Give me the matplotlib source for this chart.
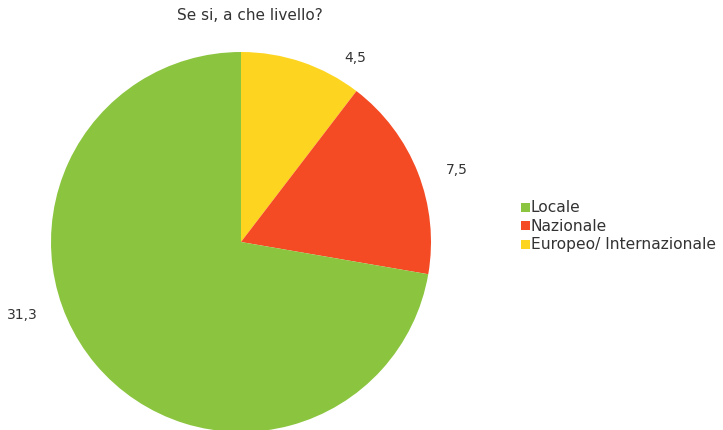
import matplotlib
matplotlib.use('Agg')
import matplotlib.pyplot as plt

plt.rcParams['font.family'] = ['DejaVu Sans']

title = 'Se si, a che livello?'
categories = ['Locale', 'Nazionale', 'Europeo/ Internazionale']
values = [31.3, 7.5, 4.5]
colors = ['#8BC53F', '#F44B24', '#FDD520']
text_color = '#333333'

# pie is drawn clockwise from 12 o'clock: yellow, red, then green
order = [2, 1, 0]

W, H = 723, 431
fig = plt.figure(figsize=(W / 100, H / 100), dpi=100)
fig.patch.set_facecolor('white')

# pie axes: center (241, 243) px, radius 190 px
cx, cy, r = 241, 243, 190
ax = fig.add_axes([(cx - r) / W, (H - cy - r) / H, 2 * r / W, 2 * r / H])
wedges, _ = ax.pie([values[i] for i in order],
                   colors=[colors[i] for i in order],
                   startangle=90, counterclock=False, radius=1.0,
                   wedgeprops=dict(linewidth=0))
ax.set_xlim(-1, 1)
ax.set_ylim(-1, 1)
ax.set_aspect('equal')
ax.axis('off')
for w in wedges:
    w.set_clip_on(False)

# value labels (pixel positions of label centres)
label_px = {0: (22, 315), 1: (457, 170), 2: (355, 58)}
for i, (px, py) in label_px.items():
    fig.text(px / W, 1 - py / H, f'{values[i]:.1f}'.replace('.', ','),
             ha='center', va='center', fontsize=10, color=text_color)

fig.text(250 / W, 1 - 16 / H, title, ha='center', va='center',
         fontsize=11, color=text_color)

# legend
for k, name in enumerate(categories):
    y = 1 - (208 + k * 18.5) / H
    fig.patches.append(plt.Rectangle((521 / W, y - 4.5 / H), 9 / W, 9 / H,
                                     transform=fig.transFigure,
                                     facecolor=colors[k], edgecolor='none'))
    fig.text(531 / W, y, name, ha='left', va='center',
             fontsize=11.2, color=text_color)

fig.savefig('out.png', dpi=100)
